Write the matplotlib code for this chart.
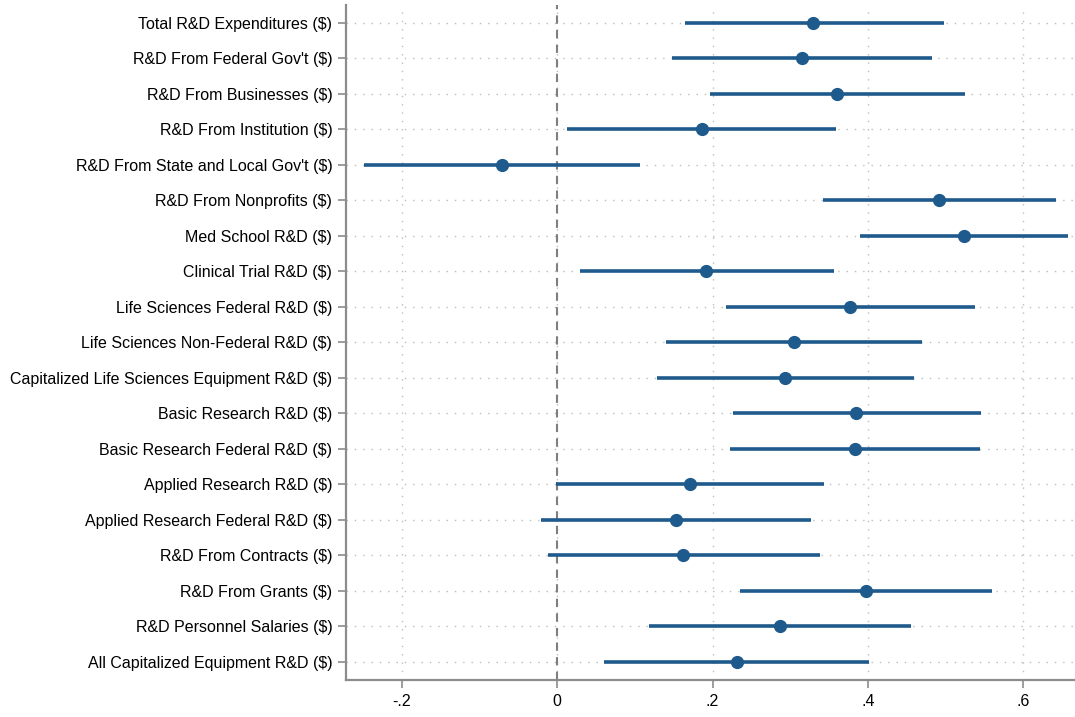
import matplotlib

matplotlib.use("Agg")
import matplotlib.pyplot as plt
from matplotlib.ticker import FuncFormatter

plt.rcParams["font.family"] = ["Liberation Sans", "DejaVu Sans"]

LINE_COLOR = "#1f5a8c"
GRID_COLOR = "#bdbdbd"
AXIS_COLOR = "#8c8c8c"

labels = [
    "Total R&D Expenditures ($)",
    "R&D From Federal Gov't ($)",
    "R&D From Businesses ($)",
    "R&D From Institution ($)",
    "R&D From State and Local Gov't ($)",
    "R&D From Nonprofits ($)",
    "Med School R&D ($)",
    "Clinical Trial R&D ($)",
    "Life Sciences Federal R&D ($)",
    "Life Sciences Non-Federal R&D ($)",
    "Capitalized Life Sciences Equipment R&D ($)",
    "Basic Research R&D ($)",
    "Basic Research Federal R&D ($)",
    "Applied Research R&D ($)",
    "Applied Research Federal R&D ($)",
    "R&D From Contracts ($)",
    "R&D From Grants ($)",
    "R&D Personnel Salaries ($)",
    "All Capitalized Equipment R&D ($)",
]
coef = [0.330, 0.315, 0.361, 0.186, -0.071, 0.492, 0.524, 0.192, 0.377, 0.305,
        0.293, 0.385, 0.383, 0.171, 0.153, 0.162, 0.398, 0.287, 0.231]
ci_low = [0.164, 0.148, 0.197, 0.012, -0.249, 0.342, 0.390, 0.029, 0.218, 0.140,
          0.128, 0.226, 0.223, -0.002, -0.021, -0.012, 0.236, 0.118, 0.060]
ci_high = [0.498, 0.483, 0.525, 0.359, 0.107, 0.643, 0.658, 0.356, 0.538, 0.470,
           0.460, 0.546, 0.544, 0.344, 0.327, 0.339, 0.560, 0.456, 0.402]
xticks = [-0.2, 0, 0.2, 0.4, 0.6]

fig = plt.figure(figsize=(10.75, 7.17), dpi=100)
ax = fig.add_axes([0.322, 0.052, 0.678, 0.941])

pos = list(range(1, len(labels) + 1))
ax.hlines(pos, ci_low, ci_high, color=LINE_COLOR, lw=2.6, zorder=3)
ax.plot(coef, pos, "o", color=LINE_COLOR, ms=8.5, zorder=4)
ax.axvline(0, color="#7f7f7f", lw=1.5, ls=(0, (4, 3)), zorder=2)

ax.set_xlim(-0.272, 0.667)
ax.set_ylim(19.5, 0.5)
ax.set_yticks(pos)
ax.set_yticklabels(labels, fontsize=11.5)
ax.set_xticks(xticks)
ax.xaxis.set_major_formatter(
    FuncFormatter(lambda v, _: "0" if abs(v) < 1e-9 else f"{v:.1f}".replace("0.", "."))
)
ax.tick_params(axis="x", labelsize=11.5, colors=AXIS_COLOR, labelcolor="black",
               length=6, width=1.2, pad=4)
ax.tick_params(axis="y", colors=AXIS_COLOR, labelcolor="black", length=6, width=1.2, pad=4)

ax.grid(True, color=GRID_COLOR, ls=(0, (1, 5)), lw=1.0, zorder=1)
ax.set_axisbelow(True)
for side in ["top", "right"]:
    ax.spines[side].set_visible(False)
for side in ["left", "bottom"]:
    ax.spines[side].set_color(AXIS_COLOR)
    ax.spines[side].set_linewidth(1.6)

fig.savefig("out.png", dpi=100)
